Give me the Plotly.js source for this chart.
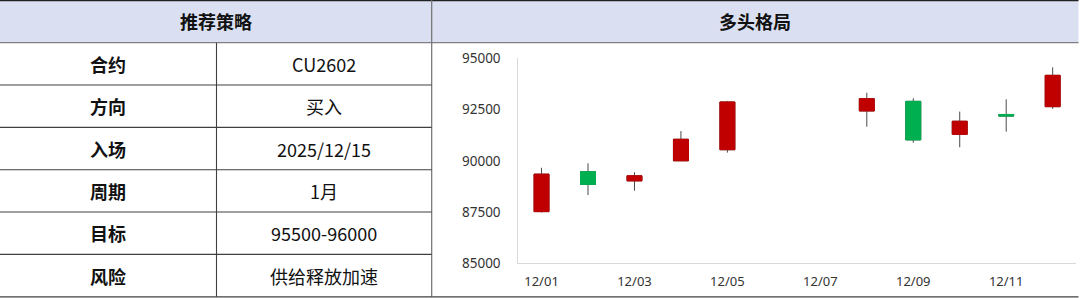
<!DOCTYPE html>
<html><head><meta charset="utf-8">
<script src="https://cdn.plot.ly/plotly-3.0.1.min.js"></script>
<style>html,body{margin:0;padding:0;background:#fff}#chart{width:1080px;height:298px}</style>
</head><body><div id="chart"></div>
<script>
// ---- data ----
const dates  = ['2025-12-01','2025-12-02','2025-12-03','2025-12-04','2025-12-05','2025-12-08','2025-12-09','2025-12-10','2025-12-11','2025-12-12'];
const openV  = [87520, 89470, 89020, 90000, 90540, 92430, 92900, 91290, 92260, 92640];
const highV  = [89660, 89880, 89440, 91450, 92920, 93320, 93050, 92400, 93000, 94560];
const lowV   = [87480, 88330, 88540, 90000, 90400, 91660, 90880, 90660, 91420, 92530];
const closeV = [89350, 88850, 89270, 91050, 92870, 93030, 91020, 91930, 92180, 94170];
const tableLabels = ['合约','方向','入场','周期','目标','风险'];
const tableValues = ['CU2602','买入','2025/12/15','1月','95500-96000','供给释放加速'];
const panelTitles = ['推荐策略','多头格局'];
const yTicks = [85000, 87500, 90000, 92500, 95000];

// ---- helpers ----
const W = 1080, H = 298;
const px = v => v / W;
const py = v => 1 - v / H;
const UP = '#C00000', DOWN = '#00B050', WICK = '#4a4a4a';
const CJK = 'Noto Sans CJK SC';

const bodyHigh = openV.map((o, i) => Math.max(o, closeV[i]));
const bodyLow  = openV.map((o, i) => Math.min(o, closeV[i]));

const wickTrace = {
  type: 'candlestick', x: dates, open: openV, high: highV, low: lowV, close: closeV,
  increasing: {line: {color: WICK, width: 1}, fillcolor: WICK},
  decreasing: {line: {color: WICK, width: 1}, fillcolor: WICK},
  whiskerwidth: 0, hoverinfo: 'skip', showlegend: false
};
const bodyTrace = {
  type: 'candlestick', x: dates, open: openV, high: bodyHigh, low: bodyLow, close: closeV,
  increasing: {line: {color: UP, width: 1}, fillcolor: UP},
  decreasing: {line: {color: DOWN, width: 1}, fillcolor: DOWN},
  whiskerwidth: 0, hoverinfo: 'skip', showlegend: false
};

// ---- table geometry ----
const HEAD_B = 42.7, ROW_H = 42.33, COL_X = 216.5, PANEL_X = 431.7, RIGHT = 1078.5, BOTTOM = 296.8;

const shapes = [
  {type: 'rect', xref: 'paper', yref: 'paper', x0: 0, x1: px(RIGHT), y0: py(HEAD_B), y1: 1,
   fillcolor: '#DAE0F2', line: {width: 0}, layer: 'below'},
  {type: 'line', xref: 'paper', yref: 'paper', x0: 0, x1: px(RIGHT), y0: py(0.6), y1: py(0.6),
   line: {color: '#222222', width: 1.2}},
  {type: 'line', xref: 'paper', yref: 'paper', x0: 0, x1: px(RIGHT), y0: py(HEAD_B), y1: py(HEAD_B),
   line: {color: '#808080', width: 1.3}},
  {type: 'line', xref: 'paper', yref: 'paper', x0: px(PANEL_X), x1: px(PANEL_X), y0: py(BOTTOM), y1: 1,
   line: {color: '#707070', width: 1.2}},
  {type: 'line', xref: 'paper', yref: 'paper', x0: px(COL_X), x1: px(COL_X), y0: py(BOTTOM), y1: py(HEAD_B),
   line: {color: '#404040', width: 1.1}},
  {type: 'line', xref: 'paper', yref: 'paper', x0: 0, x1: px(RIGHT), y0: py(BOTTOM), y1: py(BOTTOM),
   line: {color: '#404040', width: 1.2}}
];
tableLabels.forEach((_, i) => {
  if (i > 0) {
    const y = HEAD_B + i * ROW_H;
    shapes.push({type: 'line', xref: 'paper', yref: 'paper', x0: 0, x1: px(PANEL_X), y0: py(y), y1: py(y),
      line: {color: '#404040', width: 1.1}});
  }
});

const annotations = [
  {xref: 'paper', yref: 'paper', x: px(216), y: py(21.3), xanchor: 'center', yanchor: 'middle',
   text: '<b>' + panelTitles[0] + '</b>', showarrow: false,
   font: {family: CJK, size: 18, color: '#111111'}},
  {xref: 'paper', yref: 'paper', x: px(755), y: py(21.3), xanchor: 'center', yanchor: 'middle',
   text: '<b>' + panelTitles[1] + '</b>', showarrow: false,
   font: {family: CJK, size: 18, color: '#111111'}}
];
tableLabels.forEach((lab, i) => {
  const yc = HEAD_B + (i + 0.5) * ROW_H;
  annotations.push({xref: 'paper', yref: 'paper', x: px(108), y: py(yc), xanchor: 'center', yanchor: 'middle',
    text: '<b>' + lab + '</b>', showarrow: false, font: {family: CJK, size: 18, color: '#111111'}});
  annotations.push({xref: 'paper', yref: 'paper', x: px(324), y: py(yc), xanchor: 'center', yanchor: 'middle',
    text: tableValues[i], showarrow: false, font: {family: CJK, size: 18, color: '#111111'}});
});

const layout = {
  width: W, height: H,
  margin: {l: 0, r: 0, t: 0, b: 0},
  paper_bgcolor: '#ffffff', plot_bgcolor: '#ffffff',
  showlegend: false,
  boxgap: 0.54,
  xaxis: {
    type: 'date', domain: [px(518.3), px(1075.9)],
    range: ['2025-11-30 12:00', '2025-12-12 12:00'],
    tick0: '2025-12-01', dtick: 2 * 86400000, tickformat: '%m/%d',
    showline: true, linecolor: '#d9d9d9', linewidth: 1,
    showgrid: false, zeroline: false,
    ticks: 'outside', ticklen: 6, tickcolor: 'rgba(0,0,0,0)',
    tickfont: {family: 'Noto Sans', size: 13, color: '#333333'},
    rangeslider: {visible: false}, fixedrange: true
  },
  yaxis: {
    domain: [py(263.3), py(58.3)], range: [85000, 95000],
    tickvals: yTicks, ticktext: yTicks.map(String),
    showline: true, linecolor: '#d9d9d9', linewidth: 1,
    showgrid: false, zeroline: false,
    ticks: 'outside', ticklen: 14, tickcolor: 'rgba(0,0,0,0)',
    tickfont: {family: 'Noto Sans', size: 13.5, color: '#333333'},
    fixedrange: true
  },
  shapes: shapes,
  annotations: annotations
};

Plotly.newPlot('chart', [wickTrace, bodyTrace], layout, {displayModeBar: false, staticPlot: true});
</script>
</body></html>
